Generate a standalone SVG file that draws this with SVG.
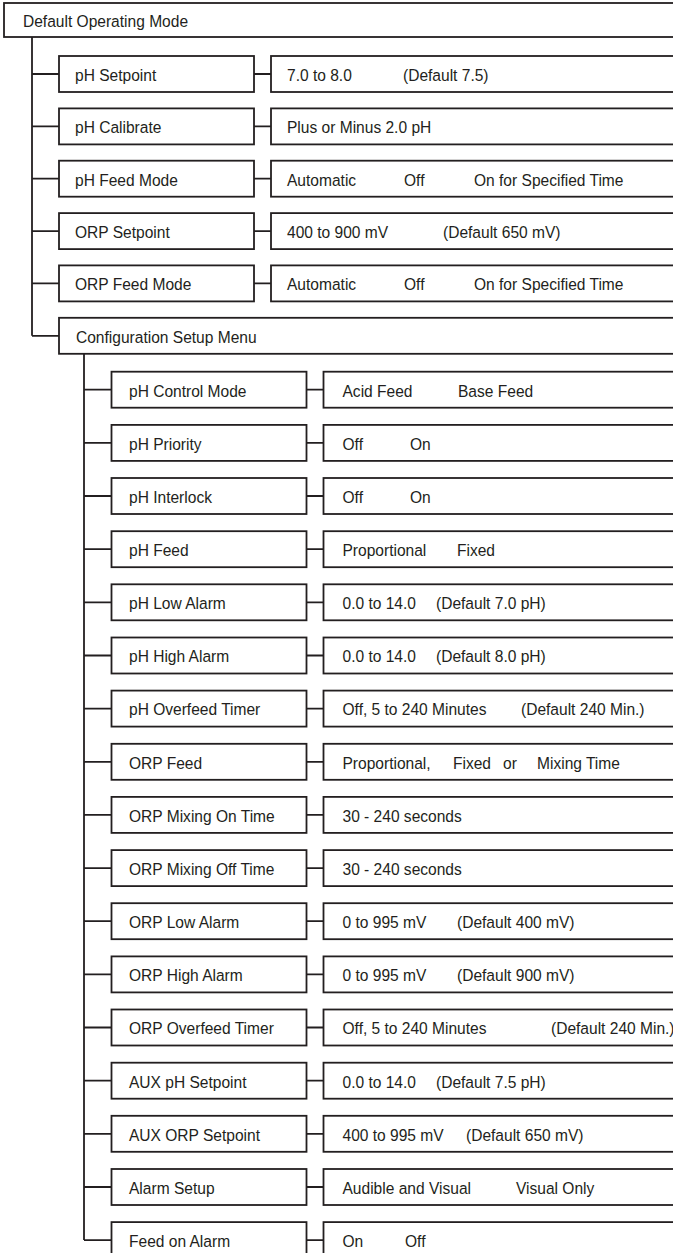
<svg xmlns="http://www.w3.org/2000/svg" width="673" height="1253" viewBox="0 0 673 1253">
<style>
rect{fill:#fff;stroke:#231f20;stroke-width:1.8}
.c{fill:none;stroke:#231f20;stroke-width:1.8}
text{font-family:"Liberation Sans",Arial,sans-serif;font-size:17px;fill:#231f20}
</style>
<rect x="0" y="0" width="673" height="1253" style="stroke:none"/>
<g id="connectors" class="c">
<path d="M32 37V335.8M32 74H59M32 126.4H59M32 178.7H59M32 231.1H59M32 283.4H59M32 335.8H59"/>
<path d="M254 74H271M254 126.4H271M254 178.7H271M254 231.1H271M254 283.4H271"/>
<path d="M84 353.8V1240.1M84 389.7H111.5M84 442.9H111.5M84 496H111.5M84 549.2H111.5M84 602.3H111.5M84 655.5H111.5M84 708.6H111.5M84 761.8H111.5M84 814.9H111.5M84 868.1H111.5M84 921.2H111.5M84 974.4H111.5M84 1027.5H111.5M84 1080.7H111.5M84 1133.8H111.5M84 1187H111.5M84 1240.1H111.5"/>
<path d="M306.5 389.7H323.5M306.5 442.9H323.5M306.5 496H323.5M306.5 549.2H323.5M306.5 602.3H323.5M306.5 655.5H323.5M306.5 708.6H323.5M306.5 761.8H323.5M306.5 814.9H323.5M306.5 868.1H323.5M306.5 921.2H323.5M306.5 974.4H323.5M306.5 1027.5H323.5M306.5 1080.7H323.5M306.5 1133.8H323.5M306.5 1187H323.5M306.5 1240.1H323.5"/>
</g>
<g id="n-default"><rect x="4" y="3" width="720" height="34"/><text transform="translate(23 26.8) scale(0.915 1)">Default Operating Mode</text></g>

<g id="n-ph-setpoint"><rect x="59" y="56" width="195" height="36"/><text transform="translate(75 80.8) scale(0.915 1)">pH Setpoint</text></g>
<g id="v-ph-setpoint"><rect x="271" y="56" width="450" height="36"/><text transform="translate(287 80.8) scale(0.915 1)">7.0 to 8.0</text><text transform="translate(403 80.8) scale(0.915 1)">(Default 7.5)</text></g>

<g id="n-ph-calibrate"><rect x="59" y="108.4" width="195" height="36"/><text transform="translate(75 133.2) scale(0.915 1)">pH Calibrate</text></g>
<g id="v-ph-calibrate"><rect x="271" y="108.4" width="450" height="36"/><text transform="translate(287 133.2) scale(0.915 1)">Plus or Minus 2.0 pH</text></g>

<g id="n-ph-feed-mode"><rect x="59" y="160.7" width="195" height="36"/><text transform="translate(75 185.5) scale(0.915 1)">pH Feed Mode</text></g>
<g id="v-ph-feed-mode"><rect x="271" y="160.7" width="450" height="36"/><text transform="translate(287 185.5) scale(0.915 1)">Automatic</text><text transform="translate(404 185.5) scale(0.915 1)">Off</text><text transform="translate(474 185.5) scale(0.915 1)">On for Specified Time</text></g>

<g id="n-orp-setpoint"><rect x="59" y="213.1" width="195" height="36"/><text transform="translate(75 237.9) scale(0.915 1)">ORP Setpoint</text></g>
<g id="v-orp-setpoint"><rect x="271" y="213.1" width="450" height="36"/><text transform="translate(287 237.9) scale(0.915 1)">400 to 900 mV</text><text transform="translate(443 237.9) scale(0.915 1)">(Default 650 mV)</text></g>

<g id="n-orp-feed-mode"><rect x="59" y="265.4" width="195" height="36"/><text transform="translate(75 290.2) scale(0.915 1)">ORP Feed Mode</text></g>
<g id="v-orp-feed-mode"><rect x="271" y="265.4" width="450" height="36"/><text transform="translate(287 290.2) scale(0.915 1)">Automatic</text><text transform="translate(404 290.2) scale(0.915 1)">Off</text><text transform="translate(474 290.2) scale(0.915 1)">On for Specified Time</text></g>

<g id="n-config"><rect x="59" y="317.8" width="660" height="36"/><text transform="translate(76 342.6) scale(0.915 1)">Configuration Setup Menu</text></g>

<g id="n-ph-control-mode"><rect x="111.5" y="371.7" width="195" height="36"/><text transform="translate(129 396.5) scale(0.915 1)">pH Control Mode</text></g>
<g id="v-ph-control-mode"><rect x="323.5" y="371.7" width="400" height="36"/><text transform="translate(342.5 396.5) scale(0.915 1)">Acid Feed</text><text transform="translate(458 396.5) scale(0.915 1)">Base Feed</text></g>

<g id="n-ph-priority"><rect x="111.5" y="424.9" width="195" height="36"/><text transform="translate(129 449.7) scale(0.915 1)">pH Priority</text></g>
<g id="v-ph-priority"><rect x="323.5" y="424.9" width="400" height="36"/><text transform="translate(342.5 449.7) scale(0.915 1)">Off</text><text transform="translate(410 449.7) scale(0.915 1)">On</text></g>

<g id="n-ph-interlock"><rect x="111.5" y="478" width="195" height="36"/><text transform="translate(129 502.8) scale(0.915 1)">pH Interlock</text></g>
<g id="v-ph-interlock"><rect x="323.5" y="478" width="400" height="36"/><text transform="translate(342.5 502.8) scale(0.915 1)">Off</text><text transform="translate(410 502.8) scale(0.915 1)">On</text></g>

<g id="n-ph-feed"><rect x="111.5" y="531.2" width="195" height="36"/><text transform="translate(129 556) scale(0.915 1)">pH Feed</text></g>
<g id="v-ph-feed"><rect x="323.5" y="531.2" width="400" height="36"/><text transform="translate(342.5 556) scale(0.915 1)">Proportional</text><text transform="translate(457 556) scale(0.915 1)">Fixed</text></g>

<g id="n-ph-low-alarm"><rect x="111.5" y="584.3" width="195" height="36"/><text transform="translate(129 609.1) scale(0.915 1)">pH Low Alarm</text></g>
<g id="v-ph-low-alarm"><rect x="323.5" y="584.3" width="400" height="36"/><text transform="translate(342.5 609.1) scale(0.915 1)">0.0 to 14.0</text><text transform="translate(436 609.1) scale(0.915 1)">(Default 7.0 pH)</text></g>

<g id="n-ph-high-alarm"><rect x="111.5" y="637.5" width="195" height="36"/><text transform="translate(129 662.3) scale(0.915 1)">pH High Alarm</text></g>
<g id="v-ph-high-alarm"><rect x="323.5" y="637.5" width="400" height="36"/><text transform="translate(342.5 662.3) scale(0.915 1)">0.0 to 14.0</text><text transform="translate(436 662.3) scale(0.915 1)">(Default 8.0 pH)</text></g>

<g id="n-ph-overfeed"><rect x="111.5" y="690.6" width="195" height="36"/><text transform="translate(129 715.4) scale(0.915 1)">pH Overfeed Timer</text></g>
<g id="v-ph-overfeed"><rect x="323.5" y="690.6" width="400" height="36"/><text transform="translate(342.5 715.4) scale(0.915 1)">Off, 5 to 240 Minutes</text><text transform="translate(521 715.4) scale(0.915 1)">(Default 240 Min.)</text></g>

<g id="n-orp-feed"><rect x="111.5" y="743.8" width="195" height="36"/><text transform="translate(129 768.6) scale(0.915 1)">ORP Feed</text></g>
<g id="v-orp-feed"><rect x="323.5" y="743.8" width="400" height="36"/><text transform="translate(342.5 768.6) scale(0.915 1)">Proportional,</text><text transform="translate(453 768.6) scale(0.915 1)">Fixed</text><text transform="translate(503 768.6) scale(0.915 1)">or</text><text transform="translate(537 768.6) scale(0.915 1)">Mixing Time</text></g>

<g id="n-orp-mix-on"><rect x="111.5" y="796.9" width="195" height="36"/><text transform="translate(129 821.7) scale(0.915 1)">ORP Mixing On Time</text></g>
<g id="v-orp-mix-on"><rect x="323.5" y="796.9" width="400" height="36"/><text transform="translate(342.5 821.7) scale(0.915 1)">30 - 240 seconds</text></g>

<g id="n-orp-mix-off"><rect x="111.5" y="850.1" width="195" height="36"/><text transform="translate(129 874.9) scale(0.915 1)">ORP Mixing Off Time</text></g>
<g id="v-orp-mix-off"><rect x="323.5" y="850.1" width="400" height="36"/><text transform="translate(342.5 874.9) scale(0.915 1)">30 - 240 seconds</text></g>

<g id="n-orp-low-alarm"><rect x="111.5" y="903.2" width="195" height="36"/><text transform="translate(129 928) scale(0.915 1)">ORP Low Alarm</text></g>
<g id="v-orp-low-alarm"><rect x="323.5" y="903.2" width="400" height="36"/><text transform="translate(342.5 928) scale(0.915 1)">0 to 995 mV</text><text transform="translate(457 928) scale(0.915 1)">(Default 400 mV)</text></g>

<g id="n-orp-high-alarm"><rect x="111.5" y="956.4" width="195" height="36"/><text transform="translate(129 981.2) scale(0.915 1)">ORP High Alarm</text></g>
<g id="v-orp-high-alarm"><rect x="323.5" y="956.4" width="400" height="36"/><text transform="translate(342.5 981.2) scale(0.915 1)">0 to 995 mV</text><text transform="translate(457 981.2) scale(0.915 1)">(Default 900 mV)</text></g>

<g id="n-orp-overfeed"><rect x="111.5" y="1009.5" width="195" height="36"/><text transform="translate(129 1034.3) scale(0.915 1)">ORP Overfeed Timer</text></g>
<g id="v-orp-overfeed"><rect x="323.5" y="1009.5" width="400" height="36"/><text transform="translate(342.5 1034.3) scale(0.915 1)">Off, 5 to 240 Minutes</text><text transform="translate(551 1034.3) scale(0.915 1)">(Default 240 Min.)</text></g>

<g id="n-aux-ph"><rect x="111.5" y="1062.7" width="195" height="36"/><text transform="translate(129 1087.5) scale(0.915 1)">AUX pH Setpoint</text></g>
<g id="v-aux-ph"><rect x="323.5" y="1062.7" width="400" height="36"/><text transform="translate(342.5 1087.5) scale(0.915 1)">0.0 to 14.0</text><text transform="translate(436 1087.5) scale(0.915 1)">(Default 7.5 pH)</text></g>

<g id="n-aux-orp"><rect x="111.5" y="1115.8" width="195" height="36"/><text transform="translate(129 1140.6) scale(0.915 1)">AUX ORP Setpoint</text></g>
<g id="v-aux-orp"><rect x="323.5" y="1115.8" width="400" height="36"/><text transform="translate(342.5 1140.6) scale(0.915 1)">400 to 995 mV</text><text transform="translate(466 1140.6) scale(0.915 1)">(Default 650 mV)</text></g>

<g id="n-alarm-setup"><rect x="111.5" y="1169" width="195" height="36"/><text transform="translate(129 1193.8) scale(0.915 1)">Alarm Setup</text></g>
<g id="v-alarm-setup"><rect x="323.5" y="1169" width="400" height="36"/><text transform="translate(342.5 1193.8) scale(0.915 1)">Audible and Visual</text><text transform="translate(516 1193.8) scale(0.915 1)">Visual Only</text></g>

<g id="n-feed-on-alarm"><rect x="111.5" y="1222.1" width="195" height="36"/><text transform="translate(129 1246.9) scale(0.915 1)">Feed on Alarm</text></g>
<g id="v-feed-on-alarm"><rect x="323.5" y="1222.1" width="400" height="36"/><text transform="translate(342.5 1246.9) scale(0.915 1)">On</text><text transform="translate(405 1246.9) scale(0.915 1)">Off</text></g>
</svg>
